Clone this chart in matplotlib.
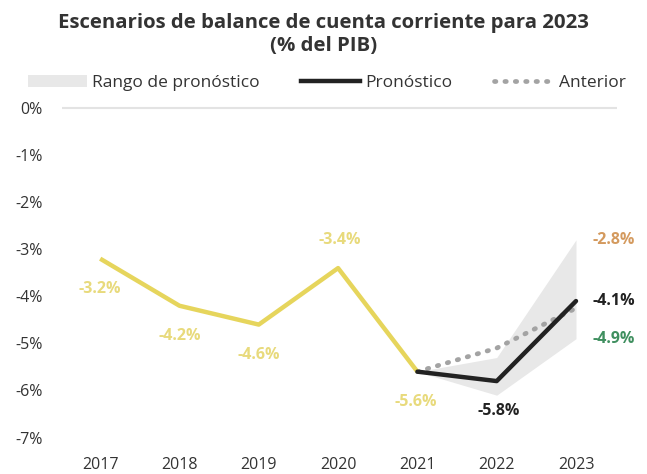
import matplotlib.pyplot as plt
from matplotlib.patches import Patch
from matplotlib.lines import Line2D

plt.rcParams['font.family'] = ['Open Sans', 'DejaVu Sans']

# historical data
years_hist = [2017, 2018, 2019, 2020, 2021]
hist = [-3.2, -4.2, -4.6, -3.4, -5.6]

# forecast
years_fc = [2021, 2022, 2023]
forecast = [-5.6, -5.8, -4.1]
previous = [-5.6, -5.1, -4.25]
range_low = [-5.6, -6.1, -4.9]
range_high = [-5.6, -5.3, -2.8]

years = [2017, 2018, 2019, 2020, 2021, 2022, 2023]

yellow = '#E6D55C'
yellow_txt = '#E8DA7C'
black = '#222222'

fig = plt.figure(figsize=(6.47, 4.74), dpi=100)
ax = fig.add_axes([0.096, 0.057, 0.858, 0.725])

ax.fill_between(years_fc, range_low, range_high, color='#E8E8E8', lw=0, zorder=1)
ax.axhline(0, color='#E3E3E3', lw=1.5, zorder=0)
ax.plot(years_hist, hist, color=yellow, lw=3.2, solid_capstyle='butt', zorder=3)
ax.plot(years_fc, previous, color='#A3A3A3', lw=3.4, linestyle=(0, (0.3, 1.9)),
        dash_capstyle='round', zorder=2)
ax.plot(years_fc, forecast, color=black, lw=3.2, solid_capstyle='round', zorder=4)

# value labels
fs = 11.5
ax.annotate('-3.2%', (2017, -3.2), xytext=(0, -30), textcoords='offset pixels',
            ha='center', va='center', color=yellow_txt, fontsize=fs, fontweight='bold')
ax.annotate('-4.2%', (2018, -4.2), xytext=(0, -30), textcoords='offset pixels',
            ha='center', va='center', color=yellow_txt, fontsize=fs, fontweight='bold')
ax.annotate('-4.6%', (2019, -4.6), xytext=(0, -30), textcoords='offset pixels',
            ha='center', va='center', color=yellow_txt, fontsize=fs, fontweight='bold')
ax.annotate('-3.4%', (2020, -3.4), xytext=(2, 28), textcoords='offset pixels',
            ha='center', va='center', color=yellow_txt, fontsize=fs, fontweight='bold')
ax.annotate('-5.6%', (2021, -5.6), xytext=(-2, -30), textcoords='offset pixels',
            ha='center', va='center', color=yellow_txt, fontsize=fs, fontweight='bold')
ax.annotate('-5.8%', (2022, -5.8), xytext=(2, -30), textcoords='offset pixels',
            ha='center', va='center', color=black, fontsize=fs, fontweight='bold')
ax.annotate('-4.1%', (2023, -4.1), xytext=(16, 0), textcoords='offset pixels',
            ha='left', va='center', color=black, fontsize=fs, fontweight='bold')
ax.annotate('-2.8%', (2023, -2.8), xytext=(16, 0), textcoords='offset pixels',
            ha='left', va='center', color='#D49A5E', fontsize=fs, fontweight='bold')
ax.annotate('-4.9%', (2023, -4.9), xytext=(16, 0), textcoords='offset pixels',
            ha='left', va='center', color='#3F8F5F', fontsize=fs, fontweight='bold')

ax.set_xlim(2016.52, 2023.52)
ax.set_ylim(-7.2, 0.1)
ax.set_xticks(years)
ax.set_xticklabels([str(y) for y in years], fontsize=11.5, color='#333333')
ax.set_yticks(range(-7, 1))
ax.set_yticklabels([f'{v}%' for v in range(-7, 1)], fontsize=11.5, color='#333333')
ax.tick_params(axis='both', length=0)
ax.tick_params(axis='y', pad=14)
ax.tick_params(axis='x', pad=7)
for s in ax.spines.values():
    s.set_visible(False)

fig.suptitle('Escenarios de balance de cuenta corriente para 2023\n(% del PIB)',
             x=0.5, y=0.972, fontsize=14.7, fontweight='bold', color='#333333',
             linespacing=1.15)

handles = [
    Patch(facecolor='#E8E8E8', edgecolor='none'),
    Line2D([0], [0], color=black, lw=3.2),
    Line2D([0], [0], color='#A3A3A3', lw=3.4, linestyle=(0, (0.3, 1.9)),
           dash_capstyle='round'),
]
fig.legend(handles, ['Rango de pronóstico', 'Pronóstico', 'Anterior'],
           loc='center', bbox_to_anchor=(0.505, 0.825), ncol=3, frameon=False,
           fontsize=12.5, handlelength=3.4, handletextpad=0.3, columnspacing=2.4,
           labelcolor='#333333')

fig.savefig('out.png', dpi=100)
